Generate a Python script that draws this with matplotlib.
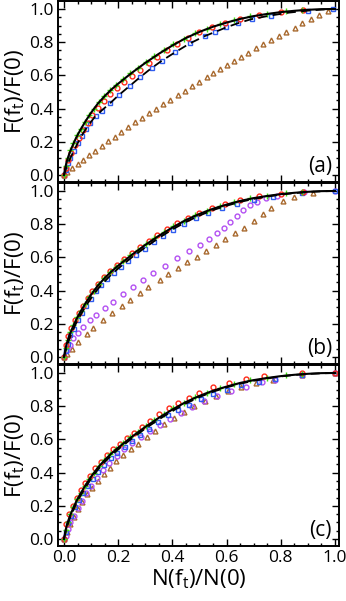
import matplotlib
matplotlib.use("Agg")
import matplotlib.pyplot as plt
from matplotlib.ticker import MultipleLocator

plt.rcParams['font.family'] = ['Open Sans', 'DejaVu Sans']
plt.rcParams['mathtext.fontset'] = 'custom'
plt.rcParams['mathtext.rm'] = 'Open Sans'

# theory curve (solid) shared by all panels
s_x = [0, 0.005, 0.01, 0.02, 0.03, 0.045, 0.06, 0.08, 0.1, 0.125, 0.15, 0.175, 0.2, 0.25, 0.3,
       0.35, 0.4, 0.45, 0.5, 0.55, 0.6, 0.65, 0.7, 0.75, 0.8, 0.85, 0.9, 0.95, 1.0]
s_y = [0, 0.045, 0.08, 0.13, 0.17, 0.225, 0.27, 0.325, 0.375, 0.43, 0.475, 0.515, 0.55, 0.615, 0.675,
       0.73, 0.78, 0.825, 0.862, 0.893, 0.918, 0.94, 0.957, 0.97, 0.981, 0.989, 0.995, 0.999, 1.0]

# dashed curves
dash_a_x = [0, 0.01, 0.02, 0.035, 0.05, 0.07, 0.09, 0.114, 0.14, 0.17, 0.2, 0.24, 0.28, 0.32, 0.36,
            0.41, 0.465, 0.52, 0.56, 0.6, 0.64, 0.69, 0.76, 0.83, 0.9, 0.95, 1.0]
dash_a_y = [0, 0.05, 0.09, 0.14, 0.19, 0.25, 0.3, 0.35, 0.39, 0.432, 0.478, 0.533, 0.588, 0.64, 0.687,
            0.739, 0.793, 0.837, 0.863, 0.89, 0.913, 0.938, 0.96, 0.978, 0.99, 0.996, 1.0]
dash_b_y = [0, 0.03, 0.06, 0.11, 0.15, 0.205, 0.25, 0.305, 0.355, 0.41, 0.455, 0.497, 0.533, 0.6, 0.66,
            0.717, 0.768, 0.813, 0.852, 0.885, 0.911, 0.934, 0.952, 0.966, 0.978, 0.987, 0.994, 0.998, 1.0]
dash_c_y = [0, 0.035, 0.068, 0.118, 0.158, 0.213, 0.258, 0.313, 0.363, 0.418, 0.463, 0.504, 0.54, 0.605, 0.665,
            0.72, 0.771, 0.816, 0.855, 0.887, 0.913, 0.935, 0.953, 0.967, 0.979, 0.988, 0.994, 0.998, 1.0]

# green crosses (same in every panel)
green_x = [0, 0.006, 0.014, 0.024, 0.035, 0.048, 0.062, 0.077, 0.093, 0.11, 0.129, 0.149, 0.17, 0.193, 0.218,
           0.244, 0.272, 0.302, 0.334, 0.368, 0.404, 0.442, 0.483, 0.527, 0.575, 0.627, 0.685, 0.75, 0.82, 0.88]
green_y = [0, 0.055, 0.105, 0.15, 0.19, 0.24, 0.28, 0.322, 0.362, 0.4, 0.44, 0.478, 0.512, 0.545, 0.578,
           0.612, 0.645, 0.68, 0.715, 0.75, 0.787, 0.822, 0.853, 0.882, 0.908, 0.933, 0.955, 0.972, 0.986, 0.995]

# panel (a)
red_a_x = [0, 0.007, 0.016, 0.027, 0.04, 0.054, 0.07, 0.087, 0.105, 0.125, 0.147, 0.17, 0.195, 0.222,
           0.25, 0.28, 0.312, 0.345, 0.38, 0.418, 0.458, 0.5, 0.545, 0.594, 0.65, 0.72, 0.8, 0.883]
red_a_y = [0, 0.04, 0.09, 0.135, 0.18, 0.225, 0.27, 0.315, 0.36, 0.405, 0.447, 0.485, 0.522, 0.56,
           0.597, 0.635, 0.673, 0.712, 0.75, 0.788, 0.826, 0.86, 0.89, 0.915, 0.94, 0.962, 0.98, 0.993]
blue_a_x = [0.0, 0.006, 0.014, 0.024, 0.036, 0.05, 0.065, 0.08, 0.097, 0.117, 0.139, 0.17, 0.203, 0.244,
            0.28, 0.324, 0.36, 0.41, 0.465, 0.52, 0.557, 0.598, 0.643, 0.693, 0.764, 0.899, 0.994]
blue_a_y = [0, 0.03, 0.07, 0.1, 0.145, 0.19, 0.235, 0.275, 0.315, 0.355, 0.387, 0.432, 0.482, 0.536,
            0.588, 0.643, 0.687, 0.739, 0.793, 0.837, 0.863, 0.89, 0.914, 0.938, 0.96, 0.99, 1.0]
tri_a_x = [0, 0.012, 0.03, 0.05, 0.071, 0.093, 0.116, 0.139, 0.163, 0.187, 0.212, 0.237, 0.262, 0.288,
           0.314, 0.34, 0.366, 0.393, 0.42, 0.447, 0.474, 0.50, 0.527, 0.551, 0.576, 0.603, 0.628, 0.654,
           0.68, 0.708, 0.735, 0.763, 0.792, 0.82, 0.851, 0.88, 0.91, 0.942, 0.975]
tri_a_y = [0, 0.016, 0.04, 0.065, 0.092, 0.118, 0.146, 0.174, 0.203, 0.232, 0.262, 0.29, 0.317, 0.344,
           0.371, 0.398, 0.425, 0.453, 0.48, 0.508, 0.536, 0.562, 0.589, 0.613, 0.639, 0.663, 0.687, 0.713,
           0.737, 0.763, 0.787, 0.813, 0.837, 0.861, 0.887, 0.914, 0.94, 0.964, 0.988]

# panel (b)
red_b_x = [0, 0.007, 0.016, 0.027, 0.04, 0.054, 0.07, 0.087, 0.105, 0.125, 0.147, 0.17, 0.195, 0.222,
           0.25, 0.28, 0.312, 0.345, 0.38, 0.418, 0.458, 0.5, 0.545, 0.594, 0.65, 0.72, 0.8, 0.883]
red_b_y = [0, 0.072, 0.127, 0.172, 0.222, 0.264, 0.31, 0.355, 0.397, 0.442, 0.482, 0.519, 0.555, 0.592,
           0.627, 0.663, 0.7, 0.737, 0.772, 0.806, 0.84, 0.87, 0.898, 0.922, 0.946, 0.967, 0.984, 0.995]
blue_b_x = [0, 0.006, 0.014, 0.024, 0.036, 0.05, 0.065, 0.081, 0.098, 0.117, 0.138, 0.16, 0.184, 0.21, 0.238,
            0.267, 0.298, 0.331, 0.366, 0.403, 0.443, 0.486, 0.532, 0.582, 0.637, 0.7, 0.77, 0.88, 1.0]
blue_b_y = [0, 0.035, 0.08, 0.13, 0.17, 0.22, 0.265, 0.305, 0.35, 0.395, 0.435, 0.47, 0.505, 0.545, 0.58,
            0.615, 0.65, 0.69, 0.727, 0.762, 0.8, 0.835, 0.865, 0.895, 0.922, 0.945, 0.965, 0.99, 1.0]
purple_b_x = [0, 0.01, 0.022, 0.034, 0.05, 0.071, 0.095, 0.12, 0.15, 0.182, 0.218, 0.256, 0.293, 0.33, 0.373,
              0.416, 0.46, 0.502, 0.535, 0.563, 0.59, 0.613, 0.638, 0.662, 0.687, 0.711, 0.745, 0.785, 0.884, 1.0]
purple_b_y = [0, 0.04, 0.075, 0.113, 0.145, 0.183, 0.22, 0.253, 0.293, 0.333, 0.38, 0.424, 0.465, 0.504, 0.55,
              0.595, 0.637, 0.675, 0.71, 0.745, 0.78, 0.811, 0.85, 0.886, 0.913, 0.936, 0.955, 0.97, 0.996, 1.0]
tri_b_x = [0, 0.01, 0.028, 0.053, 0.084, 0.108, 0.145, 0.176, 0.213, 0.244, 0.28, 0.311, 0.354, 0.385,
           0.42, 0.455, 0.49, 0.525, 0.56, 0.595, 0.63, 0.665, 0.7, 0.735, 0.765, 0.81, 0.85, 0.92]
tri_b_y = [0, 0.02, 0.05, 0.09, 0.14, 0.175, 0.225, 0.265, 0.31, 0.345, 0.385, 0.42, 0.465, 0.5,
           0.535, 0.57, 0.605, 0.64, 0.675, 0.71, 0.745, 0.78, 0.82, 0.86, 0.9, 0.94, 0.962, 0.99]

# panel (c)
red_c_x = [0, 0.008, 0.02, 0.033, 0.047, 0.063, 0.079, 0.096, 0.115, 0.135, 0.157, 0.18, 0.205, 0.231,
           0.259, 0.288, 0.319, 0.352, 0.386, 0.422, 0.46, 0.5, 0.551, 0.61, 0.67, 0.74, 0.88, 1.0]
red_c_y = [0, 0.09, 0.15, 0.2, 0.25, 0.295, 0.34, 0.38, 0.425, 0.465, 0.505, 0.54, 0.575, 0.608,
           0.64, 0.672, 0.708, 0.752, 0.787, 0.82, 0.852, 0.88, 0.915, 0.942, 0.963, 0.98, 0.997, 1.0]
blue_c_x = [0, 0.007, 0.016, 0.027, 0.04, 0.055, 0.071, 0.088, 0.107, 0.127, 0.149, 0.172, 0.197, 0.224, 0.252,
            0.282, 0.314, 0.348, 0.384, 0.422, 0.462, 0.505, 0.55, 0.6, 0.655, 0.72, 0.78, 0.88, 1.0]
blue_c_y = [0, 0.04, 0.095, 0.14, 0.19, 0.235, 0.28, 0.32, 0.36, 0.405, 0.445, 0.485, 0.52, 0.557, 0.593,
            0.627, 0.665, 0.703, 0.745, 0.778, 0.81, 0.845, 0.873, 0.9, 0.925, 0.948, 0.962, 0.99, 1.0]
tri_c_x = [0, 0.01, 0.022, 0.036, 0.051, 0.067, 0.085, 0.104, 0.124, 0.146, 0.169, 0.193, 0.219, 0.246, 0.275,
           0.305, 0.337, 0.37, 0.405, 0.442, 0.48, 0.52, 0.562, 0.607, 0.655, 0.71, 0.77, 0.88, 1.0]
tri_c_y = [0, 0.045, 0.09, 0.135, 0.18, 0.22, 0.27, 0.31, 0.35, 0.39, 0.43, 0.47, 0.505, 0.54, 0.575,
           0.612, 0.65, 0.69, 0.73, 0.765, 0.8, 0.832, 0.862, 0.89, 0.915, 0.94, 0.958, 0.99, 1.0]
purple_c_x = [0, 0.006, 0.014, 0.024, 0.036, 0.05, 0.066, 0.083, 0.101, 0.121, 0.143, 0.167, 0.194, 0.222,
              0.252, 0.284, 0.318, 0.354, 0.392, 0.432, 0.474, 0.518, 0.565, 0.615, 0.67, 0.73, 0.78, 0.88, 1.0]
purple_c_y = [0, 0.02, 0.06, 0.1, 0.14, 0.185, 0.23, 0.275, 0.32, 0.37, 0.415, 0.455, 0.498, 0.54,
              0.578, 0.615, 0.652, 0.687, 0.725, 0.76, 0.795, 0.83, 0.862, 0.89, 0.918, 0.943, 0.96, 0.99, 1.0]

GREEN = '#3fe010'
RED = '#ff2a1a'
BLUE = '#2f5cf0'
BROWN = '#a8692e'
PURPLE = '#b350f2'

fig = plt.figure(figsize=(3.46, 6.01), dpi=100)
left, width, h = 58 / 346, 281 / 346, 181 / 601
bottoms = [1 - 182 / 601, 1 - 364 / 601, 1 - 546 / 601]
axes = [fig.add_axes([left, b, width, h]) for b in bottoms]

mk = dict(linestyle='none', markersize=3.5, markeredgewidth=1.0, markerfacecolor='none')


def draw_panel(ax, red, blue, tri, purple, dash):
    ax.plot(tri[0], tri[1], marker='^', color=BROWN, **mk)
    if purple is not None:
        ax.plot(purple[0], purple[1], marker='o', color=PURPLE, **mk)
    ax.plot(blue[0], blue[1], marker='s', color=BLUE, **mk)
    ax.plot(red[0], red[1], marker='o', color=RED, **mk)
    ax.plot(green_x, green_y, linestyle='none', marker='+', color=GREEN, markersize=4, markeredgewidth=1.0)
    ax.plot(dash[0], dash[1], color='black', lw=1.3, dashes=(5, 3))
    ax.plot(s_x, s_y, color='black', lw=1.5)


draw_panel(axes[0], (red_a_x, red_a_y), (blue_a_x, blue_a_y), (tri_a_x, tri_a_y), None, (dash_a_x, dash_a_y))
draw_panel(axes[1], (red_b_x, red_b_y), (blue_b_x, blue_b_y), (tri_b_x, tri_b_y), (purple_b_x, purple_b_y),
           (s_x, dash_b_y))
draw_panel(axes[2], (red_c_x, red_c_y), (blue_c_x, blue_c_y), (tri_c_x, tri_c_y), (purple_c_x, purple_c_y),
           (s_x, dash_c_y))

for ax, lab in zip(axes, ['(a)', '(b)', '(c)']):
    ax.set_xlim(-0.022, 1.015)
    ax.set_ylim(-0.042, 1.048)
    ax.xaxis.set_major_locator(MultipleLocator(0.2))
    ax.xaxis.set_minor_locator(MultipleLocator(0.05))
    ax.yaxis.set_major_locator(MultipleLocator(0.2))
    ax.yaxis.set_minor_locator(MultipleLocator(0.05))
    ax.tick_params(which='both', direction='in', top=True, right=True, width=1.0, labelsize=12.5, pad=3)
    ax.tick_params(which='major', length=5)
    ax.tick_params(which='minor', length=2.5)
    ax.yaxis.set_major_formatter(plt.FormatStrFormatter('%.1f'))
    ax.xaxis.set_major_formatter(plt.FormatStrFormatter('%.1f'))
    for sp in ax.spines.values():
        sp.set_linewidth(1.4)
    ax.set_ylabel('F(f$_\\mathregular{t}$)/F(0)', fontsize=16, labelpad=2)
    ax.text(0.975, 0.03, lab, transform=ax.transAxes, ha='right', va='bottom', fontsize=15)
    if ax is not axes[2]:
        ax.tick_params(labelbottom=False)

axes[2].set_xlabel('N(f$_\\mathregular{t}$)/N(0)', fontsize=16, labelpad=1)

fig.savefig('out.png', dpi=100)
